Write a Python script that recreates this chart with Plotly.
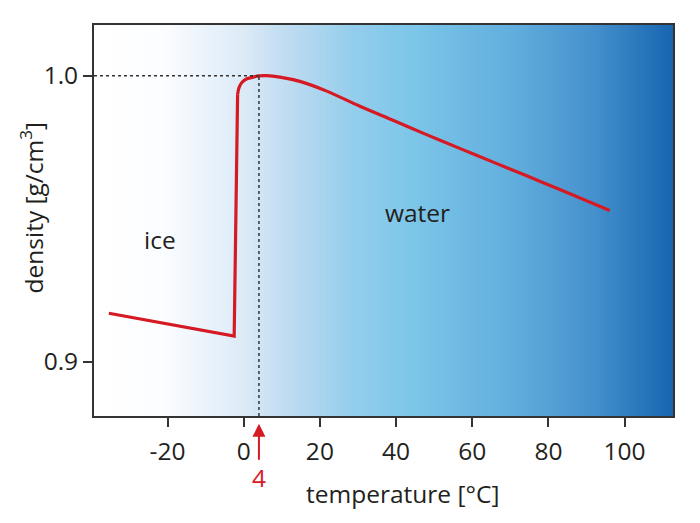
import plotly.graph_objects as go
import numpy as np

# data
temperature = [-35.4, -2.5, -1.6, -1.3, -0.8, 0.0, 1.0, 2.5, 4.0, 6.0, 9.5, 14.75,
               21.8, 30.5, 39.2, 48.0, 56.7, 65.5, 74.3, 83.0, 96.1]
density = [0.917, 0.909, 0.9935, 0.9955, 0.9970, 0.9982, 0.9990, 0.9995, 0.9999, 1.0,
           0.9995, 0.998, 0.9946, 0.9893, 0.9844, 0.9794, 0.9746, 0.9698, 0.9650,
           0.9602, 0.9529]
x_ticks = [-20, 0, 20, 40, 60, 80, 100]
x_ticklabels = ["-20", "0", "20", "40", "60", "80", "100"]
y_ticks = [0.9, 1.0]
y_ticklabels = ["0.9", "1.0"]
max_temp = 4
region_labels = ["ice", "water"]
region_x = [-22, 45.5]
region_y = [0.9426, 0.9523]

XR = [-39.3, 112.7]
YR = [0.8811, 1.0177]
FONT = "Open Sans"
FS = 24.5
TXT = "#231f20"
RED = "#d51a23"

fig = go.Figure()

# background gradient
gx = np.linspace(XR[0], XR[1], 200)
fig.add_trace(go.Heatmap(
    x=gx, y=[YR[0], YR[1]], z=[gx, gx], zsmooth="best", showscale=False,
    hoverinfo="skip",
    colorscale=[[0.0, "#ffffff"], [0.12, "#fbfdff"], [0.26, "#dbeaf7"],
                [0.33, "#c0dcf1"], [0.45, "#93cdec"], [0.55, "#7cc6e9"],
                [0.72, "#62aedd"], [0.86, "#4691cd"], [1.0, "#1565b0"]],
))

# ice part (straight) and water part (smooth)
fig.add_trace(go.Scatter(x=temperature[:3], y=density[:3], mode="lines",
                         line=dict(color=RED, width=3.2), hoverinfo="skip"))
fig.add_trace(go.Scatter(x=temperature[2:], y=density[2:], mode="lines",
                         line=dict(color=RED, width=3.2, shape="spline", smoothing=0.8),
                         hoverinfo="skip"))

# dotted guide lines
fig.add_shape(type="line", x0=XR[0], x1=max_temp, y0=1.0, y1=1.0, xref="x", yref="y",
              line=dict(color="#333333", width=1.5, dash="dot"))
fig.add_shape(type="line", x0=max_temp, x1=max_temp, y0=YR[0], y1=1.0, xref="x", yref="y",
              line=dict(color="#333333", width=1.5, dash="dot"))

for t, xx, yy in zip(region_labels, region_x, region_y):
    fig.add_annotation(x=xx, y=yy, text=t, showarrow=False,
                       font=dict(family=FONT, size=FS, color=TXT))

# red arrow with its label "4"
fig.add_annotation(x=max_temp, y=-0.02, xref="x", yref="paper", text=str(max_temp),
                   showarrow=True, ax=0, ay=54, arrowhead=2, arrowsize=1.3,
                   arrowwidth=2, arrowcolor=RED,
                   font=dict(family=FONT, size=FS, color=RED))

# axis titles as annotations
fig.add_annotation(x=0.532, y=-0.197, xref="paper", yref="paper", yanchor="middle",
                   xanchor="center", text="temperature [°C]", showarrow=False,
                   font=dict(family=FONT, size=FS, color=TXT))
fig.add_annotation(x=-0.108, y=0.5345, xref="paper", yref="paper", textangle=-90,
                   xanchor="center", yanchor="middle",
                   text="density [g/cm<sup>3</sup>]", showarrow=False,
                   font=dict(family=FONT, size=FS, color=TXT))

fig.update_xaxes(range=XR, tickvals=x_ticks, ticktext=x_ticklabels, ticks="outside",
                 ticklen=9, tickwidth=1.5, ticklabelstandoff=4,
                 tickcolor="#333333", showline=True, linecolor="#333333", linewidth=2,
                 mirror=True, showgrid=False, zeroline=False,
                 tickfont=dict(family=FONT, size=FS, color=TXT))
fig.update_yaxes(range=YR, tickvals=y_ticks, ticktext=y_ticklabels, ticks="outside",
                 ticklen=9, tickwidth=1.5, tickcolor="#333333", showline=True,
                 linecolor="#333333", linewidth=2, mirror=True, showgrid=False,
                 zeroline=False, tickfont=dict(family=FONT, size=FS, color=TXT))

fig.update_layout(width=700, height=523, margin=dict(l=94, r=27, t=25, b=107),
                  paper_bgcolor="white", plot_bgcolor="white", showlegend=False)

fig.write_html("out.html")
